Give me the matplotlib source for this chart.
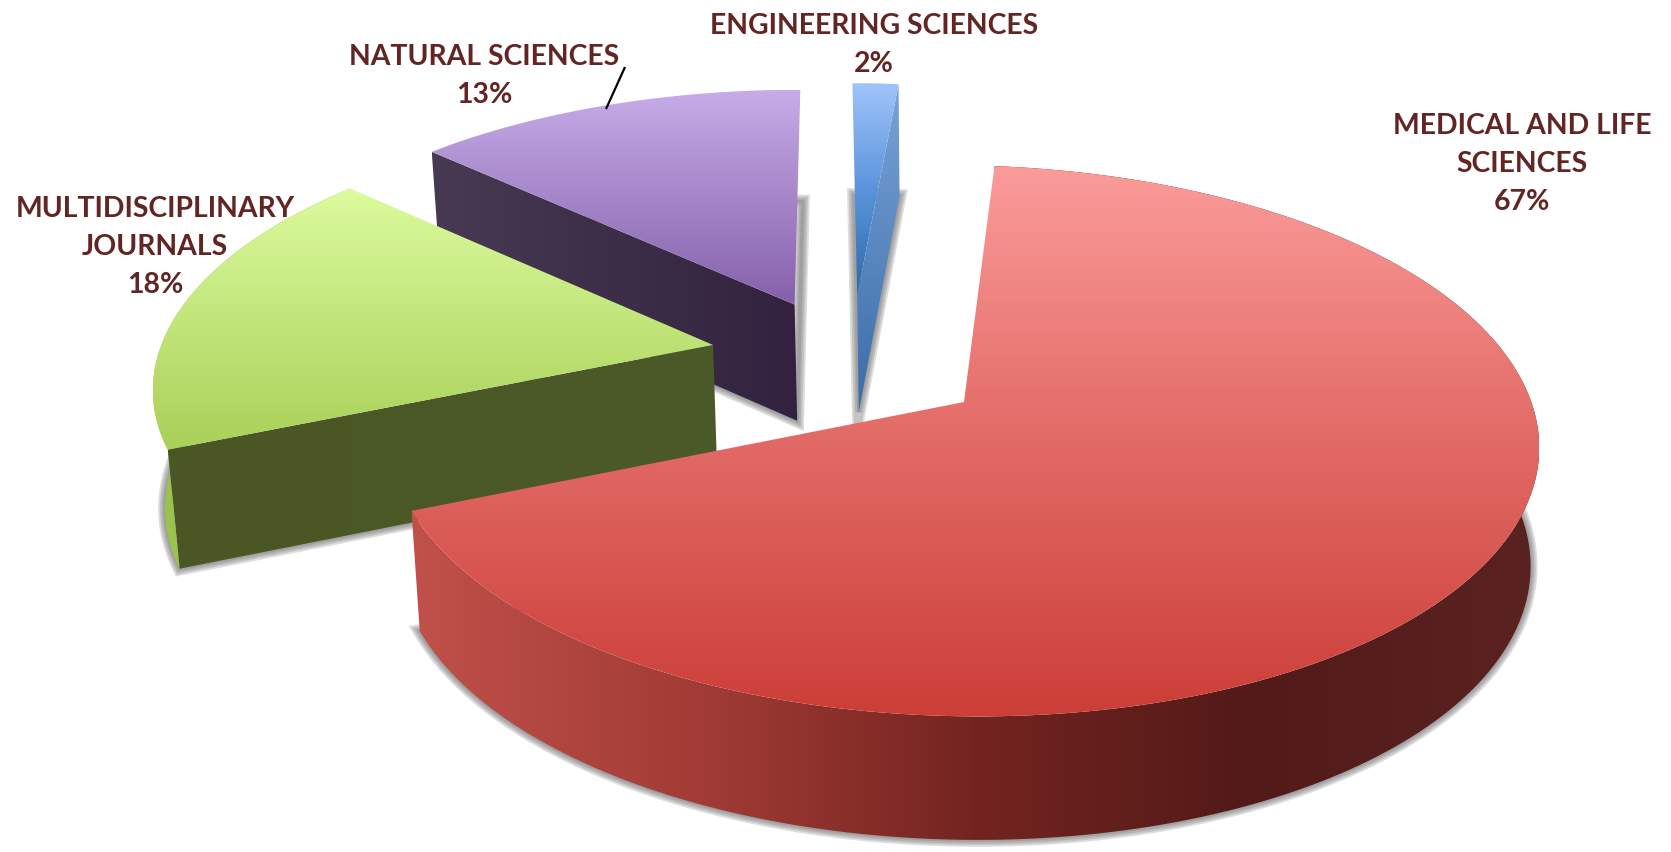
import numpy as np
import matplotlib
matplotlib.use('Agg')
import matplotlib.pyplot as plt
from matplotlib.colors import LinearSegmentedColormap
from matplotlib.patches import Polygon

# data
categories = ['MEDICAL AND LIFE\nSCIENCES', 'MULTIDISCIPLINARY\nJOURNALS',
              'NATURAL SCIENCES', 'ENGINEERING SCIENCES']
values = [67, 18, 13, 2]
pct_labels = ['67%', '18%', '13%', '2%']

# layout, in pixels of the 1671x852 picture
label_pos = [(1522, 164), (155, 247), (484, 76), (874, 45)]
explode_u = [0.0, -0.457, -0.3155, -0.2]
explode_v = [0.0, 0.2058, 0.372, 0.41]
angle_nudge = [1.0, 0.0, -1.0, 0.0]
arc_extra = [1.5, 0.0, 0.0, 0.0]
width_u = [1.008, 1.0, 1.02, 0.78]
start_angle = 85.5
cx, cy = 964, 402
rx, ry = 565, 270
persp = 0.141
shear = 0.012
depth = 118
shrink = 0.985

face_cols = [['#fb9c9a', '#e26a66', '#cc3e38'],
             ['#dcfb9e', '#a9d058'],
             ['#c6ace8', '#8560aa'],
             ['#a0c4fa', '#5a94dc', '#2f69a8']]
wall_cols = [['#c0504a', '#a33c36', '#742420', '#521a18', '#5a2220'],
             ['#4a5725', '#4b5a28'],
             ['#473a52', '#32223f'],
             ['#7aa3d8', '#3a6ca8']]
sliver_cols = ['#8fb846', '#9cc44e']
text_col = '#632523'


def project(u, v):
    s = 1 / (1 + persp*v)
    x = cx + rx*u*s
    y = cy - ry*v*s + shear*(x - cx)
    return x, y, s


def top_points(u, v):
    x, y, s = project(u, v)
    return np.column_stack([x, y])


def bottom_points(u, v):
    x, y, s = project(u, v)
    return np.column_stack([cx + (x - cx)*shrink, y + depth*s**0.3])


def gradient(ax, pts, cols, z, vertical=True):
    cmap = LinearSegmentedColormap.from_list('g', cols)
    grad = np.linspace(0, 1, 256)
    grad = grad[:, None] if vertical else grad[None, :]
    x0, x1 = pts[:, 0].min(), pts[:, 0].max()
    y0, y1 = pts[:, 1].min(), pts[:, 1].max()
    im = ax.imshow(grad, cmap=cmap, extent=(x0, x1, y1, y0), aspect='auto',
                   interpolation='bilinear', vmin=0, vmax=1, zorder=z)
    patch = Polygon(pts, closed=True, fc='none', ec='none', transform=ax.transData)
    ax.add_patch(patch)
    im.set_clip_path(patch)


def shadow(ax, pts, z):
    for lw in [10, 7.5, 5, 2.5]:
        ax.add_patch(Polygon(pts, closed=True, fc='none', ec='#6a6a6a',
                             lw=lw, alpha=0.22, zorder=z))


fig = plt.figure(figsize=(16.71, 8.52), dpi=100)
ax = fig.add_axes([0, 0, 1, 1])

# slices run clockwise from the start angle
edges = start_angle - np.cumsum([0] + values)*3.6
slices = []
for i in range(len(values)):
    th = np.linspace(edges[i], edges[i+1] - arc_extra[i], 200) + angle_nudge[i]
    th = np.radians(th)
    u = np.r_[explode_u[i], explode_u[i] + width_u[i]*np.cos(th)]
    v = np.r_[explode_v[i], explode_v[i] + np.sin(th)]
    slices.append((u, v))

# back to front: blue, purple, green, red
z = 1
for i in [3, 2, 1, 0]:
    u, v = slices[i]
    top = top_points(u, v)
    bot = bottom_points(u, v)
    shadow(ax, bot, z)
    if i == 0:
        # outer curved wall
        wall = np.vstack([top[1:], bot[1:][::-1]])
        gradient(ax, wall, wall_cols[0], z+1, vertical=False)
    elif i == 1:
        # curved sliver on the far left, then the flat front wall
        wall = np.vstack([top[1:], bot[1:][::-1]])
        gradient(ax, wall, sliver_cols, z+1, vertical=True)
        wall = np.vstack([top[[0, 1]], bot[[1, 0]]])
        gradient(ax, wall, wall_cols[1], z+1, vertical=False)
    elif i == 2:
        wall = np.vstack([top[[1, 0]], bot[[0, 1]]])
        gradient(ax, wall, wall_cols[2], z+1, vertical=False)
    else:
        wall = np.vstack([top[[0, -1]], bot[[-1, 0]]])
        gradient(ax, wall, wall_cols[3], z+1, vertical=True)
    gradient(ax, top, face_cols[i], z+2)
    z += 3

# leader line of the natural sciences label
ax.plot([625, 606], [67, 109], color='black', lw=1.6, solid_capstyle='butt', zorder=z)

for name, pct, (x, y) in zip(categories, pct_labels, label_pos):
    ax.text(x, y, name + '\n' + pct, ha='center', va='center', ma='center',
            color=text_col, fontsize=20.4, fontfamily='Lato', fontweight='bold',
            linespacing=1.58, zorder=z)

ax.set_xlim(0, 1671)
ax.set_ylim(852, 0)
ax.axis('off')
fig.savefig('out.png', dpi=100, facecolor='white')
